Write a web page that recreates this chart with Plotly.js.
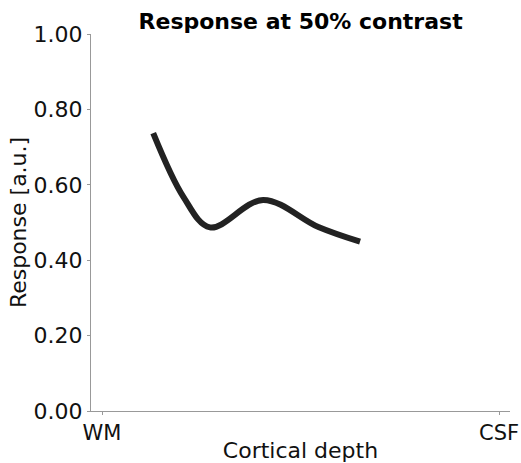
<!DOCTYPE html>
<html><head><meta charset="utf-8">
<script src="https://cdn.plot.ly/plotly-3.0.1.min.js"></script>
<style>body{margin:0;background:#fff}#c{width:521px;height:463px}</style>
</head><body><div id="c"></div>
<script>
const depth = [0.129, 0.205, 0.272, 0.406, 0.545, 0.650];
const response = [0.737, 0.568, 0.487, 0.560, 0.488, 0.449];
const xTickVals = [0, 1];
const xTickText = ['WM', 'CSF'];
const yTickVals = [0, 0.2, 0.4, 0.6, 0.8, 1.0];

const font = 'DejaVu Sans, sans-serif';
Plotly.newPlot('c', [{
  x: depth, y: response, type: 'scatter', mode: 'lines',
  line: {color: '#222222', width: 6, shape: 'spline', smoothing: 1.0},
  hoverinfo: 'skip'
}], {
  width: 521, height: 463,
  margin: {l: 91, r: 11, t: 34, b: 52},
  paper_bgcolor: '#fff', plot_bgcolor: '#fff',
  showlegend: false,
  title: {text: '<b>Response at 50% contrast</b>', font: {family: font, size: 22, color: '#000'},
          x: 0.577, xanchor: 'center', y: 0.955, yanchor: 'middle'},
  xaxis: {range: [-0.0277, 1.0277], tickvals: xTickVals, ticktext: xTickText,
          showgrid: false, zeroline: false, showline: true, linecolor: '#999', linewidth: 1,
          ticks: 'outside', ticklen: 3, tickcolor: '#999',
          tickfont: {family: font, size: 21, color: '#111'},
          title: {text: 'Cortical depth', font: {family: font, size: 22, color: '#111'}, standoff: 0}},
  yaxis: {range: [0, 1], tickvals: yTickVals, tickformat: '.2f',
          showgrid: false, zeroline: false, showline: true, linecolor: '#999', linewidth: 1,
          ticks: 'outside', ticklen: 3, tickcolor: '#999',
          tickfont: {family: font, size: 22, color: '#111'},
          title: {text: 'Response [a.u.]', font: {family: font, size: 22, color: '#111'}, standoff: 0}}
}, {displayModeBar: false, staticPlot: true});
</script></body></html>
